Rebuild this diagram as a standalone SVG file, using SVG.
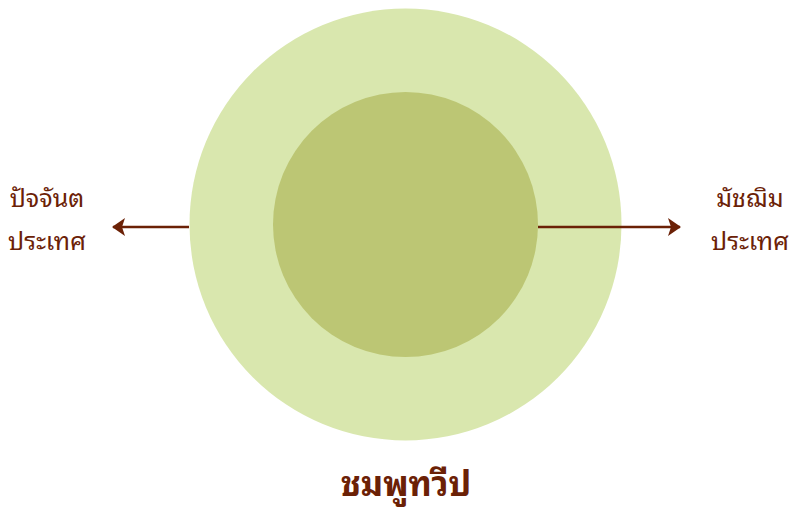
<svg xmlns="http://www.w3.org/2000/svg" width="795" height="511" viewBox="0 0 795 511">
<defs>
<style>
.lbl{font-family:"Noto Sans Thai Looped","Loma","Garuda","Tahoma","Noto Sans Thai","Noto Sans",sans-serif;fill:#6b2106;font-size:25px;text-anchor:middle}
.title{font-size:34px;font-weight:bold}
.conn{stroke:#6b2106;stroke-width:2.5;fill:none}
</style>
<marker id="ah" markerWidth="13" markerHeight="18" viewBox="0 0 13 18" refX="12" refY="9" orient="auto" markerUnits="userSpaceOnUse">
<path d="M0,0 L13,9 L0,18 L3,9 Z" fill="#6b2106"/>
</marker>
</defs>
<rect width="795" height="511" fill="#ffffff"/>
<g id="outer"><circle cx="405.5" cy="224.5" r="216" fill="#d9e7ae"/></g>
<g id="inner"><circle cx="405.5" cy="224.5" r="132.5" fill="#bcc674"/></g>
<g id="connectors">
<line class="conn" x1="189" y1="227" x2="113" y2="227" marker-end="url(#ah)"/>
<line class="conn" x1="538" y1="227" x2="680" y2="227" marker-end="url(#ah)"/>
</g>
<g id="left"><text class="lbl" x="47" y="207">ปัจจันต</text><text class="lbl" x="47" y="250">ประเทศ</text></g>
<g id="right"><text class="lbl" x="750" y="207">มัชฌิม</text><text class="lbl" x="750" y="250">ประเทศ</text></g>
<g id="title"><text class="lbl title" x="406" y="496">ชมพูทวีป</text></g>
</svg>
